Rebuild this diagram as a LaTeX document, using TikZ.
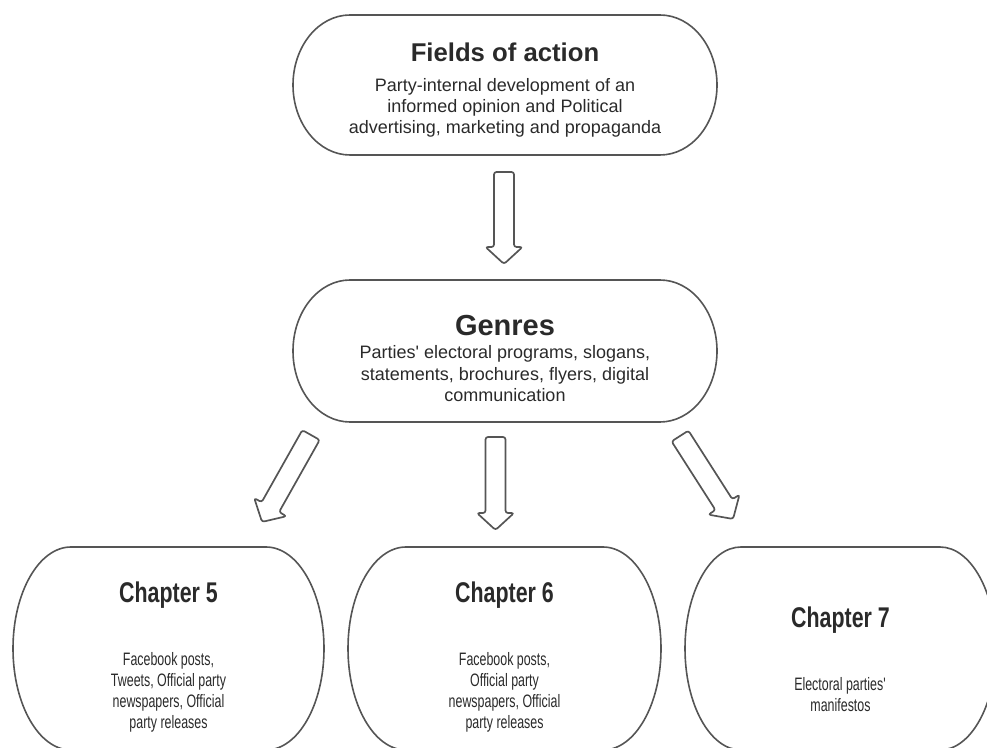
\documentclass[tikz,border=0pt]{standalone}
\usepackage{fontspec}
\setmainfont{Liberation Sans}
\newfontfamily\narrowsans[FakeStretch=0.75]{Liberation Sans}
\newfontfamily\narrowbody[FakeStretch=0.69]{Liberation Sans}
\usetikzlibrary{calc}

\definecolor{ink}{HTML}{2A2A2A}
\definecolor{edge}{HTML}{555555}

\tikzset{
  boxline/.style={draw=edge, line width=1.6pt},
  arrowline/.style={draw=edge, line width=1.7pt, rounded corners=2.5pt, line join=round},
  % rectangle whose corners are quarter ellipses: width, height, x radius, y radius
  pics/ovalbox/.style n args={4}{code={
    \draw[boxline] (-#1/2+#3,#2/2) -- (#1/2-#3,#2/2)
      arc[start angle=90,end angle=0,x radius=#3,y radius=#4]
      -- (#1/2,-#2/2+#4)
      arc[start angle=0,end angle=-90,x radius=#3,y radius=#4]
      -- (-#1/2+#3,-#2/2)
      arc[start angle=270,end angle=180,x radius=#3,y radius=#4]
      -- (-#1/2,#2/2-#4)
      arc[start angle=180,end angle=90,x radius=#3,y radius=#4] -- cycle;
  }},
  % hollow block arrow of the given length, pointing along +x
  pics/blockarr/.style={code={
    \draw[arrowline] (0,-10) -- (#1-17,-10) -- (#1-17,-18.5) -- (#1,0)
      -- (#1-17,18.5) -- (#1-17,10) -- (0,10) -- cycle;
  }},
  titletext/.style={font=\bfseries\fontsize{25.7}{30}\selectfont, text=ink, inner sep=0pt, anchor=base},
  bigtitle/.style={titletext, font=\bfseries\fontsize{29}{34}\selectfont},
  % multi-line texts are placed by the baseline of their last line
  bodytext/.style={font=\fontsize{18}{21.3}\selectfont, text=ink, align=center, inner sep=0pt, anchor=base},
  chtitle/.style={font=\narrowsans\bfseries\fontsize{28.5}{32}\selectfont, text=ink, inner sep=0pt, anchor=base},
  chbody/.style={font=\narrowbody\fontsize{18}{21}\selectfont, text=ink, align=center, inner sep=0pt, anchor=base},
}

\begin{document}
\begin{tikzpicture}[x=1pt,y=1pt]
  \useasboundingbox (0,0) rectangle (987,747);
  \clip (0,0) rectangle (987,747);

  % box centres
  \coordinate (fields) at (505,662);
  \coordinate (genres) at (505,396);
  \coordinate (ch5) at (168.5,98.5);
  \coordinate (ch6) at (504.5,98.5);
  \coordinate (ch7) at (840.5,98.5);

  % arrow tails
  \coordinate (a1) at (504,575);
  \coordinate (a2) at (311,312);
  \coordinate (a3) at (495.5,310);
  \coordinate (a4) at (680,311);

  % outlines
  \pic at (fields) {ovalbox={424}{140}{57}{70}};
  \pic at (genres) {ovalbox={424}{142}{57}{71}};
  \pic at (ch5) {ovalbox={311}{203}{58}{101.5}};
  \pic at (ch6) {ovalbox={313}{203}{58}{101.5}};
  \pic at (ch7) {ovalbox={311}{203}{56}{101.5}};

  % top level
  \node[titletext] (fieldsT) at (505,685) {Fields of action};
  \node[bodytext] (fieldsB) at (505,613) {Party-internal development of an\\informed opinion and Political\\advertising, marketing and propaganda};

  % genres
  \node[bigtitle] (genresT) at (505,411) {Genres};
  \node[bodytext] (genresB) at (505,345.5) {Parties\textquotesingle{} electoral programs, slogans,\\statements, brochures, flyers, digital\\communication};

  % chapters
  \node[chtitle] (ch5T) at (168.5,145) {Chapter 5};
  \node[chbody] (ch5B) at (168.5,19) {Facebook posts,\\Tweets, Official party\\newspapers, Official\\party releases};

  \node[chtitle] (ch6T) at (504.5,145) {Chapter 6};
  \node[chbody] (ch6B) at (504.5,19) {Facebook posts,\\Official party\\newspapers, Official\\party releases};

  \node[chtitle] (ch7T) at (840.5,120) {Chapter 7};
  \node[chbody] (ch7B) at (840.5,36) {Electoral parties\textquotesingle\\manifestos};

  % block arrows
  \pic[rotate=-90] at (a1) {blockarr=92};
  \pic[rotate=-119.4] at (a2) {blockarr=99.8};
  \pic[rotate=-90] at (a3) {blockarr=93};
  \pic[rotate=-57.4] at (a4) {blockarr=98.5};
\end{tikzpicture}
\end{document}
